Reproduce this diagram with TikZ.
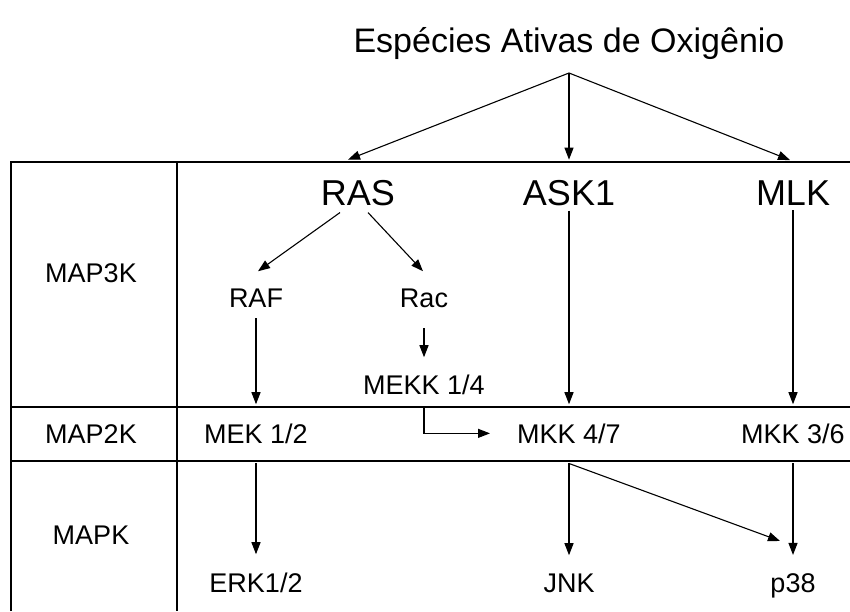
\documentclass[tikz,border=0pt]{standalone}
\usepackage{fontspec}
\setmainfont{Liberation Sans}
\usetikzlibrary{arrows.meta}
\tikzset{
  seta/.style={-{Triangle[length=12pt,width=9pt]},line width=1.1pt},
  grade/.style={line width=1.4pt},
  rotulo/.style={inner sep=0pt,anchor=base,font=\fontsize{27}{27}\selectfont},
  quinase/.style={inner sep=0pt,anchor=base,font=\fontsize{36}{36}\selectfont}
}
\begin{document}
\begin{tikzpicture}[x=1pt,y=-1pt]
  \def\ca{256}
  \def\cb{569}
  \def\cc{793}
  \useasboundingbox (0,0) rectangle (850,611);
  % tabela
  \draw[grade,line width=2pt] (11,611) -- (11,162) -- (850,162);
  \draw[grade] (177,162) -- (177,611);
  \draw[grade] (11,407) -- (850,407);
  \draw[grade,line width=2.6pt] (11,461) -- (850,461);
  % niveis
  \node[rotulo] (n3) at (91,282) {MAP3K};
  \node[rotulo] (n2) at (91,443) {MAP2K};
  \node[rotulo] (n1) at (91,544) {MAPK};
  % textos
  \node[inner sep=0pt,anchor=base,font=\fontsize{34}{34}\selectfont] (eao) at (\cb,52) {Espécies Ativas de Oxigênio};
  \coordinate (apex) at (\cb,73);
  \node[quinase] (ras) at (358,205) {RAS};
  \node[quinase] (ask) at (\cb,205) {ASK1};
  \node[quinase] (mlk) at (\cc,205) {MLK};
  \node[rotulo] (raf) at (\ca,307) {RAF};
  \node[rotulo] (rac) at (424,307) {Rac};
  \node[rotulo] (mekk) at (424,394) {MEKK 1/4};
  \node[rotulo] (mek) at (\ca,443) {MEK 1/2};
  \node[rotulo] (mkka) at (\cb,443) {MKK 4/7};
  \node[rotulo] (mkkb) at (\cc,443) {MKK 3/6};
  \node[rotulo] (erk) at (\ca,592) {ERK1/2};
  \node[rotulo] (jnk) at (\cb,592) {JNK};
  \node[rotulo] (p38) at (\cc,592) {p38};
  % setas
  \draw[seta] (apex) -- ([xshift=-10pt,yshift=20pt]ras.north);
  \draw[seta] (apex) -- ([yshift=20pt]ask.north);
  \draw[seta] (apex) -- ([xshift=-3pt,yshift=20pt]mlk.north);
  \draw[seta] ([xshift=-18pt,yshift=-7pt]ras.south) -- ([xshift=2pt,yshift=17pt]raf.north);
  \draw[seta] ([xshift=10pt,yshift=-7pt]ras.south) -- ([xshift=-1pt,yshift=17pt]rac.north);
  \draw[seta] ([yshift=-11pt]raf.south) -- ([yshift=19pt]mek.north);
  \draw[seta] ([yshift=-21pt]rac.south) -- ([yshift=17pt]mekk.north);
  \draw[seta] ([yshift=-5pt]ask.south) -- ([yshift=19pt]mkka.north);
  \draw[seta] ([yshift=-5pt]mlk.south) -- ([yshift=19pt]mkkb.north);
  \draw[seta] ([yshift=-14pt]mekk.south) |- ([xshift=-27pt]mkka.west);
  \draw[seta] ([yshift=-20pt]mek.south) -- ([yshift=18pt]erk.north);
  \draw[seta] ([yshift=-20pt]mkka.south) -- ([yshift=18pt]jnk.north);
  \draw[seta] ([yshift=-20pt]mkkb.south) -- ([yshift=18pt]p38.north);
  \draw[seta] ([yshift=-20pt]mkka.south) -- ([xshift=-13pt,yshift=32pt]p38.north);
\end{tikzpicture}
\end{document}
